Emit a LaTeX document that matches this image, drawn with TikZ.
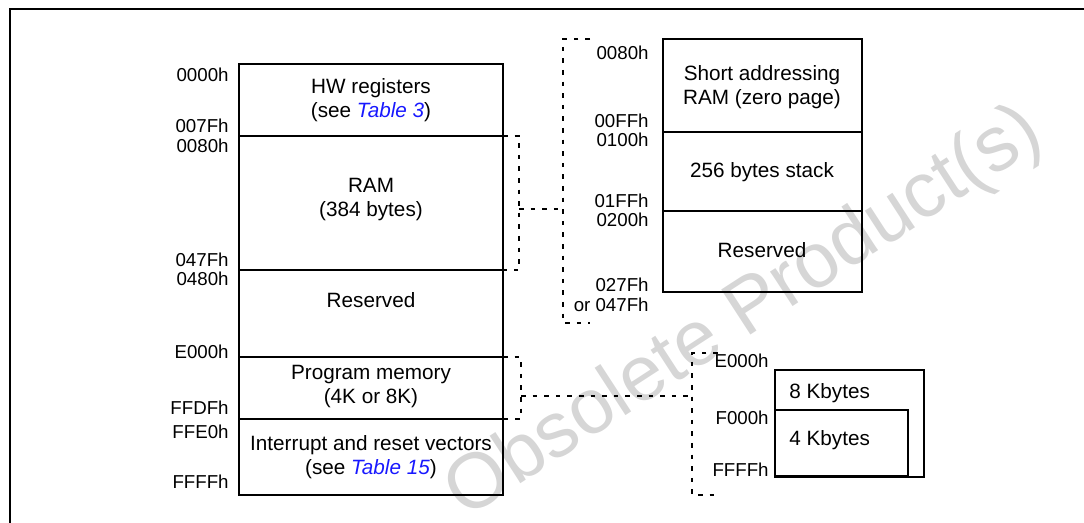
\documentclass[tikz,border=0pt]{standalone}
\usepackage{fontspec}
\setmainfont{Liberation Sans}
\usepackage{xcolor}
\usepackage{tikz}
\pgfdeclarelayer{nodelayer}
\pgfdeclarelayer{edgelayer}
\pgfsetlayers{nodelayer,edgelayer,main}
\definecolor{linkblue}{RGB}{24,24,255}
\definecolor{markgrey}{RGB}{214,214,214}
\tikzset{
  addr/.style={anchor=base east, inner sep=0pt, font=\fontsize{9.35pt}{11pt}\selectfont},
  area/.style={align=center, inner sep=0pt, font=\fontsize{10.35pt}{12pt}\selectfont},
  memline/.style={line width=0.75pt},
  bracket/.style={line width=0.6pt, dash pattern=on 2.3pt off 3.5pt},
}

\begin{document}
\begin{tikzpicture}[x=0.5pt, y=-0.5pt]
  \useasboundingbox (0, 0) rectangle (1084, 523);
  \begin{pgfonlayer}{nodelayer}
    \node [rotate=33, text=markgrey, font=\fontsize{39pt}{39pt}\selectfont] (99) at (745, 314) {Obsolete Product(s)};
    % main map
    \node [] (0) at (239, 64) {};
    \node [] (1) at (503, 64) {};
    \node [] (2) at (239, 136) {};
    \node [] (3) at (503, 136) {};
    \node [] (4) at (239, 270) {};
    \node [] (5) at (503, 270) {};
    \node [] (6) at (239, 357) {};
    \node [] (7) at (503, 357) {};
    \node [] (8) at (239, 419) {};
    \node [] (9) at (503, 419) {};
    \node [] (10) at (239, 495) {};
    \node [] (11) at (503, 495) {};
    \node [area] (12) at (371, 100) {HW registers\\(see \textcolor{linkblue}{\textit{Table 3}})};
    \node [area] (13) at (371, 200) {RAM\\(384 bytes)};
    \node [area] (14) at (371, 300) {Reserved};
    \node [area] (15) at (371, 387) {Program memory\\(4K or 8K)};
    \node [area] (16) at (371, 457) {Interrupt and reset vectors\\(see \textcolor{linkblue}{\textit{Table 15}})};
    \node [addr] (17) at (229, 82) {0000h};
    \node [addr] (18) at (229, 133) {007Fh};
    \node [addr] (19) at (229, 153) {0080h};
    \node [addr] (20) at (229, 267) {047Fh};
    \node [addr] (21) at (229, 286) {0480h};
    \node [addr] (22) at (229, 359) {E000h};
    \node [addr] (23) at (229, 415) {FFDFh};
    \node [addr] (24) at (229, 439) {FFE0h};
    \node [addr] (25) at (229, 489) {FFFFh};
    % RAM detail
    \node [] (30) at (663, 39) {};
    \node [] (31) at (862, 39) {};
    \node [] (32) at (663, 132) {};
    \node [] (33) at (862, 132) {};
    \node [] (34) at (663, 211) {};
    \node [] (35) at (862, 211) {};
    \node [] (36) at (663, 292) {};
    \node [] (37) at (862, 292) {};
    \node [area] (38) at (762, 87) {Short addressing\\RAM (zero page)};
    \node [area] (39) at (762, 172) {256 bytes stack};
    \node [area] (40) at (762, 250) {Reserved};
    \node [addr] (41) at (649, 60) {0080h};
    \node [addr] (42) at (649, 128) {00FFh};
    \node [addr] (43) at (649, 147) {0100h};
    \node [addr] (44) at (649, 208) {01FFh};
    \node [addr] (45) at (649, 227) {0200h};
    \node [addr] (46) at (649, 292) {027Fh};
    \node [addr] (47) at (649, 312) {or 047Fh};
    % program memory detail
    \node [] (50) at (775, 370) {};
    \node [] (51) at (924, 477) {};
    \node [] (52) at (775, 410) {};
    \node [] (53) at (908, 476) {};
    \node [area, anchor=base west] (54) at (789, 399) {8 Kbytes};
    \node [area, anchor=base west] (55) at (789, 446) {4 Kbytes};
    \node [addr] (56) at (769, 368) {E000h};
    \node [addr] (57) at (769, 425) {F000h};
    \node [addr] (58) at (769, 477) {FFFFh};
    % bracket corners
    \node [] (60) at (519, 136) {};
    \node [] (61) at (519, 270) {};
    \node [] (62) at (519, 209) {};
    \node [] (63) at (563, 209) {};
    \node [] (64) at (590, 39) {};
    \node [] (65) at (563, 39) {};
    \node [] (66) at (563, 323) {};
    \node [] (67) at (590, 323) {};
    \node [] (68) at (521, 357) {};
    \node [] (69) at (521, 419) {};
    \node [] (70) at (521, 396) {};
    \node [] (71) at (692, 396) {};
    \node [] (72) at (718, 353) {};
    \node [] (73) at (692, 353) {};
    \node [] (74) at (692, 495) {};
    \node [] (75) at (718, 495) {};
    \node [] (80) at (10, 523) {};
    \node [] (81) at (10, 9) {};
    \node [] (82) at (1084, 9) {};
  \end{pgfonlayer}
  \begin{pgfonlayer}{edgelayer}
    \draw [line width=1pt] (80.center) to (81.center) to (82.center);
    \draw [memline] (0.center) rectangle (11.center);
    \draw [memline] (2.center) to (3.center);
    \draw [memline] (4.center) to (5.center);
    \draw [memline] (6.center) to (7.center);
    \draw [memline] (8.center) to (9.center);
    \draw [memline] (30.center) rectangle (37.center);
    \draw [memline] (32.center) to (33.center);
    \draw [memline] (34.center) to (35.center);
    \draw [memline] (50.center) rectangle (51.center);
    \draw [memline] (52.center) rectangle (53.center);
    \draw [bracket] (3.center) to (60.center) to (61.center) to (5.center);
    \draw [bracket] (62.center) to (63.center);
    \draw [bracket] (64.center) to (65.center) to (66.center) to (67.center);
    \draw [bracket] (7.center) to (68.center) to (69.center) to (9.center);
    \draw [bracket] (70.center) to (71.center);
    \draw [bracket] (72.center) to (73.center) to (74.center) to (75.center);
  \end{pgfonlayer}
\end{tikzpicture}
\end{document}
